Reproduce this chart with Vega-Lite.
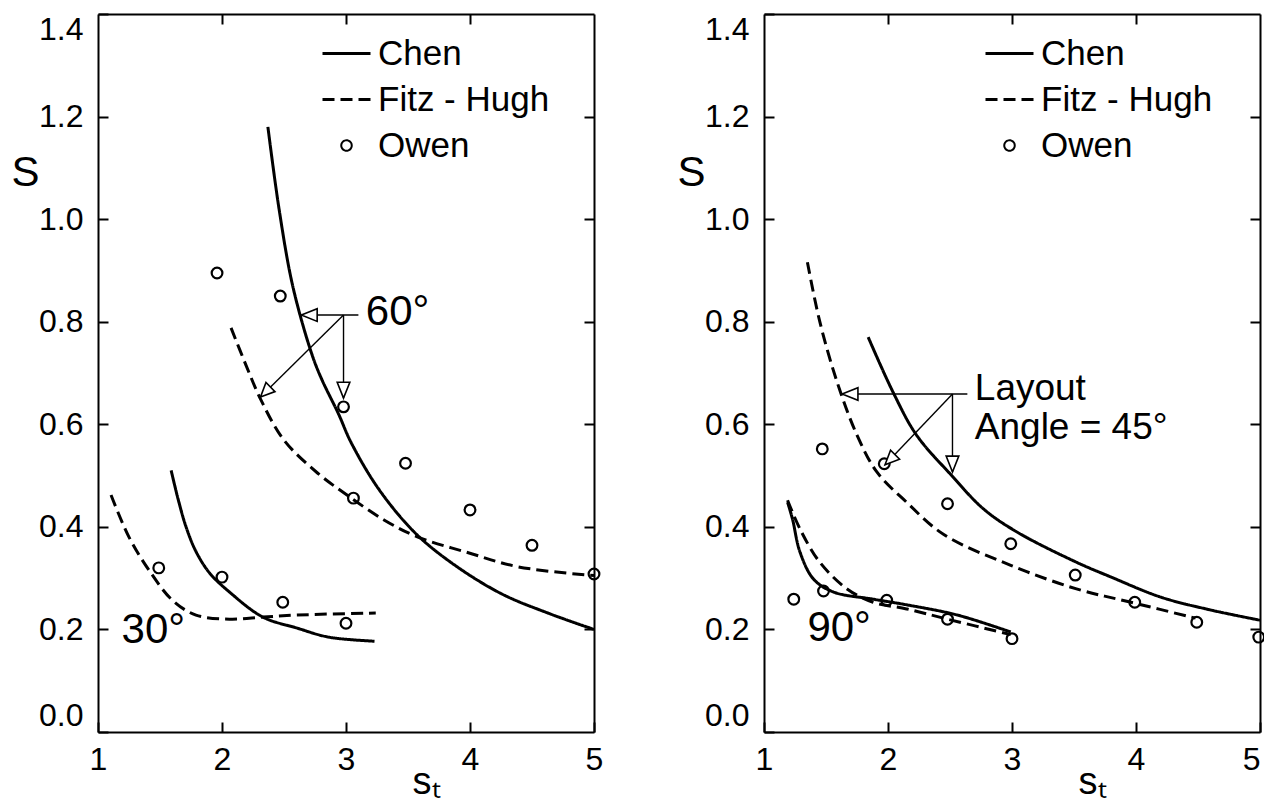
{
  "$schema": "https://vega.github.io/schema/vega-lite/v6.json",
  "padding": {"left": 10, "top": 13, "right": 0, "bottom": 0},
  "spacing": 72,
  "background": "white",
  "datasets": {
    "curves": [
      {"panel": "L", "curve": "C60", "source": "Chen", "x": 2.37, "y": 1.18},
      {"panel": "L", "curve": "C60", "source": "Chen", "x": 2.46, "y": 1.02},
      {"panel": "L", "curve": "C60", "source": "Chen", "x": 2.57, "y": 0.87},
      {"panel": "L", "curve": "C60", "source": "Chen", "x": 2.72, "y": 0.74},
      {"panel": "L", "curve": "C60", "source": "Chen", "x": 2.80, "y": 0.69},
      {"panel": "L", "curve": "C60", "source": "Chen", "x": 2.94, "y": 0.62},
      {"panel": "L", "curve": "C60", "source": "Chen", "x": 3.04, "y": 0.565},
      {"panel": "L", "curve": "C60", "source": "Chen", "x": 3.26, "y": 0.475},
      {"panel": "L", "curve": "C60", "source": "Chen", "x": 3.55, "y": 0.39},
      {"panel": "L", "curve": "C60", "source": "Chen", "x": 3.85, "y": 0.33},
      {"panel": "L", "curve": "C60", "source": "Chen", "x": 4.25, "y": 0.27},
      {"panel": "L", "curve": "C60", "source": "Chen", "x": 4.65, "y": 0.23},
      {"panel": "L", "curve": "C60", "source": "Chen", "x": 5.0, "y": 0.2},
      {"panel": "L", "curve": "F60", "source": "Fitz - Hugh", "x": 2.073, "y": 0.788},
      {"panel": "L", "curve": "F60", "source": "Fitz - Hugh", "x": 2.194, "y": 0.715},
      {"panel": "L", "curve": "F60", "source": "Fitz - Hugh", "x": 2.315, "y": 0.647},
      {"panel": "L", "curve": "F60", "source": "Fitz - Hugh", "x": 2.50, "y": 0.569},
      {"panel": "L", "curve": "F60", "source": "Fitz - Hugh", "x": 2.77, "y": 0.505},
      {"panel": "L", "curve": "F60", "source": "Fitz - Hugh", "x": 3.02, "y": 0.46},
      {"panel": "L", "curve": "F60", "source": "Fitz - Hugh", "x": 3.31, "y": 0.413},
      {"panel": "L", "curve": "F60", "source": "Fitz - Hugh", "x": 3.58, "y": 0.38},
      {"panel": "L", "curve": "F60", "source": "Fitz - Hugh", "x": 3.98, "y": 0.35},
      {"panel": "L", "curve": "F60", "source": "Fitz - Hugh", "x": 4.39, "y": 0.322},
      {"panel": "L", "curve": "F60", "source": "Fitz - Hugh", "x": 5.0, "y": 0.305},
      {"panel": "L", "curve": "C30", "source": "Chen", "x": 1.59, "y": 0.51},
      {"panel": "L", "curve": "C30", "source": "Chen", "x": 1.645, "y": 0.455},
      {"panel": "L", "curve": "C30", "source": "Chen", "x": 1.71, "y": 0.40},
      {"panel": "L", "curve": "C30", "source": "Chen", "x": 1.79, "y": 0.352},
      {"panel": "L", "curve": "C30", "source": "Chen", "x": 1.90, "y": 0.31},
      {"panel": "L", "curve": "C30", "source": "Chen", "x": 2.06, "y": 0.273},
      {"panel": "L", "curve": "C30", "source": "Chen", "x": 2.33, "y": 0.224},
      {"panel": "L", "curve": "C30", "source": "Chen", "x": 2.60, "y": 0.203},
      {"panel": "L", "curve": "C30", "source": "Chen", "x": 2.86, "y": 0.185},
      {"panel": "L", "curve": "C30", "source": "Chen", "x": 3.23, "y": 0.177},
      {"panel": "L", "curve": "F30", "source": "Fitz - Hugh", "x": 1.105, "y": 0.462},
      {"panel": "L", "curve": "F30", "source": "Fitz - Hugh", "x": 1.25, "y": 0.38},
      {"panel": "L", "curve": "F30", "source": "Fitz - Hugh", "x": 1.41, "y": 0.316},
      {"panel": "L", "curve": "F30", "source": "Fitz - Hugh", "x": 1.60, "y": 0.257},
      {"panel": "L", "curve": "F30", "source": "Fitz - Hugh", "x": 1.79, "y": 0.228},
      {"panel": "L", "curve": "F30", "source": "Fitz - Hugh", "x": 2.06, "y": 0.22},
      {"panel": "L", "curve": "F30", "source": "Fitz - Hugh", "x": 2.33, "y": 0.224},
      {"panel": "L", "curve": "F30", "source": "Fitz - Hugh", "x": 2.60, "y": 0.228},
      {"panel": "L", "curve": "F30", "source": "Fitz - Hugh", "x": 3.24, "y": 0.232},
      {"panel": "R", "curve": "F45", "source": "Fitz - Hugh", "x": 1.35, "y": 0.916},
      {"panel": "R", "curve": "F45", "source": "Fitz - Hugh", "x": 1.45, "y": 0.80},
      {"panel": "R", "curve": "F45", "source": "Fitz - Hugh", "x": 1.59, "y": 0.682},
      {"panel": "R", "curve": "F45", "source": "Fitz - Hugh", "x": 1.75, "y": 0.579},
      {"panel": "R", "curve": "F45", "source": "Fitz - Hugh", "x": 1.91, "y": 0.507},
      {"panel": "R", "curve": "F45", "source": "Fitz - Hugh", "x": 2.15, "y": 0.448},
      {"panel": "R", "curve": "F45", "source": "Fitz - Hugh", "x": 2.45, "y": 0.385},
      {"panel": "R", "curve": "F45", "source": "Fitz - Hugh", "x": 2.99, "y": 0.325},
      {"panel": "R", "curve": "F45", "source": "Fitz - Hugh", "x": 3.52, "y": 0.279},
      {"panel": "R", "curve": "F45", "source": "Fitz - Hugh", "x": 3.96, "y": 0.253},
      {"panel": "R", "curve": "F45", "source": "Fitz - Hugh", "x": 4.48, "y": 0.222},
      {"panel": "R", "curve": "C45", "source": "Chen", "x": 1.84, "y": 0.77},
      {"panel": "R", "curve": "C45", "source": "Chen", "x": 2.04, "y": 0.663},
      {"panel": "R", "curve": "C45", "source": "Chen", "x": 2.23, "y": 0.579},
      {"panel": "R", "curve": "C45", "source": "Chen", "x": 2.51, "y": 0.501},
      {"panel": "R", "curve": "C45", "source": "Chen", "x": 2.77, "y": 0.435},
      {"panel": "R", "curve": "C45", "source": "Chen", "x": 3.04, "y": 0.39},
      {"panel": "R", "curve": "C45", "source": "Chen", "x": 3.52, "y": 0.331},
      {"panel": "R", "curve": "C45", "source": "Chen", "x": 3.80, "y": 0.302},
      {"panel": "R", "curve": "C45", "source": "Chen", "x": 4.20, "y": 0.263},
      {"panel": "R", "curve": "C45", "source": "Chen", "x": 4.60, "y": 0.238},
      {"panel": "R", "curve": "C45", "source": "Chen", "x": 5.0, "y": 0.218},
      {"panel": "R", "curve": "C90", "source": "Chen", "x": 1.19, "y": 0.448},
      {"panel": "R", "curve": "C90", "source": "Chen", "x": 1.23, "y": 0.415},
      {"panel": "R", "curve": "C90", "source": "Chen", "x": 1.29, "y": 0.351},
      {"panel": "R", "curve": "C90", "source": "Chen", "x": 1.40, "y": 0.298},
      {"panel": "R", "curve": "C90", "source": "Chen", "x": 1.56, "y": 0.273},
      {"panel": "R", "curve": "C90", "source": "Chen", "x": 1.88, "y": 0.259},
      {"panel": "R", "curve": "C90", "source": "Chen", "x": 2.15, "y": 0.248},
      {"panel": "R", "curve": "C90", "source": "Chen", "x": 2.56, "y": 0.228},
      {"panel": "R", "curve": "C90", "source": "Chen", "x": 2.99, "y": 0.195},
      {"panel": "R", "curve": "F90", "source": "Fitz - Hugh", "x": 1.19, "y": 0.452},
      {"panel": "R", "curve": "F90", "source": "Fitz - Hugh", "x": 1.29, "y": 0.396},
      {"panel": "R", "curve": "F90", "source": "Fitz - Hugh", "x": 1.45, "y": 0.331},
      {"panel": "R", "curve": "F90", "source": "Fitz - Hugh", "x": 1.67, "y": 0.279},
      {"panel": "R", "curve": "F90", "source": "Fitz - Hugh", "x": 1.88, "y": 0.253},
      {"panel": "R", "curve": "F90", "source": "Fitz - Hugh", "x": 2.15, "y": 0.24},
      {"panel": "R", "curve": "F90", "source": "Fitz - Hugh", "x": 2.48, "y": 0.22},
      {"panel": "R", "curve": "F90", "source": "Fitz - Hugh", "x": 2.99, "y": 0.19}
    ],
    "owen": [
      {"panel": "L", "x": 1.96, "y": 0.895},
      {"panel": "L", "x": 2.47, "y": 0.85},
      {"panel": "L", "x": 2.98, "y": 0.634},
      {"panel": "L", "x": 3.06, "y": 0.456},
      {"panel": "L", "x": 3.48, "y": 0.524},
      {"panel": "L", "x": 4.0, "y": 0.433},
      {"panel": "L", "x": 4.5, "y": 0.364},
      {"panel": "L", "x": 5.0, "y": 0.308},
      {"panel": "L", "x": 1.49, "y": 0.32},
      {"panel": "L", "x": 2.0, "y": 0.302},
      {"panel": "L", "x": 2.49, "y": 0.253},
      {"panel": "L", "x": 3.0, "y": 0.212},
      {"panel": "R", "x": 1.24, "y": 0.259},
      {"panel": "R", "x": 1.47, "y": 0.552},
      {"panel": "R", "x": 1.48, "y": 0.275},
      {"panel": "R", "x": 1.97, "y": 0.523},
      {"panel": "R", "x": 1.99, "y": 0.257},
      {"panel": "R", "x": 2.48, "y": 0.445},
      {"panel": "R", "x": 2.48, "y": 0.22},
      {"panel": "R", "x": 2.99, "y": 0.367},
      {"panel": "R", "x": 3.0, "y": 0.182},
      {"panel": "R", "x": 3.51, "y": 0.306},
      {"panel": "R", "x": 3.99, "y": 0.253},
      {"panel": "R", "x": 4.49, "y": 0.214},
      {"panel": "R", "x": 4.99, "y": 0.185}
    ],
    "arrows": [
      {"panel": "L", "x": 2.64, "y": 0.813, "x2": 3.10, "y2": 0.813},
      {"panel": "L", "x": 2.98, "y": 0.813, "x2": 2.98, "y2": 0.651},
      {"panel": "L", "x": 2.98, "y": 0.813, "x2": 2.31, "y2": 0.653},
      {"panel": "R", "x": 1.63, "y": 0.659, "x2": 2.64, "y2": 0.659},
      {"panel": "R", "x": 2.52, "y": 0.659, "x2": 2.52, "y2": 0.507},
      {"panel": "R", "x": 2.52, "y": 0.659, "x2": 1.976, "y2": 0.521}
    ],
    "heads": [
      {"panel": "L", "dir": "left", "x": 2.64, "y": 0.813},
      {"panel": "L", "dir": "down", "x": 2.98, "y": 0.651},
      {"panel": "L", "dir": "downleft", "x": 2.31, "y": 0.653},
      {"panel": "R", "dir": "left", "x": 1.63, "y": 0.659},
      {"panel": "R", "dir": "down", "x": 2.52, "y": 0.507},
      {"panel": "R", "dir": "downleft", "x": 1.976, "y": 0.521}
    ],
    "notes": [
      {"panel": "L", "kind": "angle", "label": "60°", "x": 3.16, "y": 0.819},
      {"panel": "L", "kind": "angle", "label": "30°", "x": 1.19, "y": 0.199},
      {"panel": "R", "kind": "angle", "label": "90°", "x": 1.35, "y": 0.203},
      {"panel": "R", "kind": "layout", "label": "Layout", "x": 2.70, "y": 0.669},
      {"panel": "R", "kind": "layout", "label": "Angle = 45°", "x": 2.70, "y": 0.592}
    ]
  },
  "hconcat": [
    {
      "width": 496,
      "height": 718,
      "resolve": {"axis": {"x": "independent", "y": "independent"}},
      "layer": [
        {
          "data": {"name": "curves"},
          "transform": [{"filter": "datum.panel === 'L'"}],
          "mark": {"type": "line", "color": "black", "strokeWidth": 3, "interpolate": "catmull-rom"},
          "encoding": {
            "x": {"field": "x", "type": "quantitative", "scale": {"domain": [1, 5], "nice": false, "zero": false},
                  "axis": {"orient": "bottom", "values": [1, 2, 3, 4, 5], "format": "d", "labelFontSize": 32, "labelPadding": 22, "labelFlush": false, "tickSize": -10,
                           "title": "sₜ", "titleFontSize": 38, "titleFontWeight": "normal", "titleX": 328, "titleY": 50, "titleBaseline": "middle", "titleAlign": "center"}},
            "y": {"field": "y", "type": "quantitative", "scale": {"domain": [0, 1.4], "nice": false, "zero": false},
                  "axis": {"orient": "left", "values": [0, 0.2, 0.4, 0.6, 0.8, 1.0, 1.2, 1.4], "format": ".1f", "labelFontSize": 32, "labelPadding": 25, "labelFlush": true, "tickSize": -10,
                           "title": "S", "titleAngle": 0, "titleFontSize": 42, "titleFontWeight": "normal", "titleX": -73, "titleY": 158, "titleAlign": "center", "titleBaseline": "middle"}},
            "detail": {"field": "curve"},
            "strokeDash": {"field": "source", "type": "nominal",
                           "scale": {"domain": ["Chen", "Fitz - Hugh", "Owen"], "range": [[1, 0], [12, 6], [1, 0]]},
                           "legend": {"orient": "none", "legendX": 231, "legendY": 22, "title": null, "labelFontSize": 35, "labelFont": "Liberation Sans", "labelColor": "black",
                                      "symbolType": "stroke", "symbolSize": 2304, "symbolStrokeWidth": 3, "symbolStrokeColor": "black", "rowPadding": 10, "labelOffset": 14, "labelLimit": 400,
                                      "encode": {"symbols": {"update": {"shape": {"signal": "datum.value === 'Owen' ? 'circle' : 'stroke'"}, "size": {"signal": "datum.value === 'Owen' ? 110 : 2304"}, "strokeWidth": {"signal": "datum.value === 'Owen' ? 2 : 3"}, "fill": {"value": "transparent"}, "stroke": {"value": "black"}}}}}}
          }
        },
        {
          "data": {"name": "owen"},
          "transform": [{"filter": "datum.panel === 'L'"}],
          "mark": {"type": "point", "shape": "circle", "filled": false, "color": "black", "opacity": 1, "strokeWidth": 2.2, "size": 115},
          "encoding": {
            "x": {"field": "x", "type": "quantitative", "axis": {"orient": "top", "labels": false, "title": null, "values": [2, 3, 4], "tickSize": -10}},
            "y": {"field": "y", "type": "quantitative", "axis": {"orient": "right", "labels": false, "title": null, "values": [0.2, 0.4, 0.6, 0.8, 1.0, 1.2], "tickSize": -10}}
          }
        },
        {
          "data": {"name": "arrows"},
          "transform": [{"filter": "datum.panel === 'L'"}],
          "mark": {"type": "rule", "color": "black", "strokeWidth": 1.4},
          "encoding": {
            "x": {"field": "x", "type": "quantitative", "axis": null},
            "y": {"field": "y", "type": "quantitative", "axis": null},
            "x2": {"field": "x2"},
            "y2": {"field": "y2"}
          }
        },
        {
          "data": {"name": "heads"},
          "transform": [{"filter": "datum.panel === 'L'"}],
          "mark": {"type": "point", "filled": true, "fill": "white", "stroke": "black", "strokeWidth": 1.6, "size": 1000, "opacity": 1},
          "encoding": {
            "x": {"field": "x", "type": "quantitative", "axis": null},
            "y": {"field": "y", "type": "quantitative", "axis": null},
            "shape": {"field": "dir", "type": "nominal", "legend": null,
                      "scale": {"domain": ["left", "down", "downleft"], "range": ["M0,0L1,-0.4L1,0.4Z", "M0,0L-0.4,-1L0.4,-1Z", "M0,0L0.92,-0.35L0.35,-0.92Z"]}}
          }
        },
        {
          "data": {"name": "notes"},
          "transform": [{"filter": "datum.panel === 'L'"}],
          "mark": {"type": "text", "align": "left", "baseline": "middle", "font": "Liberation Sans", "color": "black"},
          "encoding": {
            "x": {"field": "x", "type": "quantitative", "axis": null},
            "y": {"field": "y", "type": "quantitative", "axis": null},
            "text": {"field": "label"},
            "size": {"field": "kind", "type": "nominal", "legend": null, "scale": {"domain": ["angle", "layout"], "range": [42, 37]}}
          }
        }
      ]
    },
    {
      "width": 496,
      "height": 718,
      "resolve": {"axis": {"x": "independent", "y": "independent"}},
      "layer": [
        {
          "data": {"name": "curves"},
          "transform": [{"filter": "datum.panel === 'R'"}],
          "mark": {"type": "line", "color": "black", "strokeWidth": 3, "interpolate": "catmull-rom"},
          "encoding": {
            "x": {"field": "x", "type": "quantitative", "scale": {"domain": [1, 5], "nice": false, "zero": false},
                  "axis": {"orient": "bottom", "values": [1, 2, 3, 4, 5], "format": "d", "labelFontSize": 32, "labelPadding": 22, "labelFlush": false, "tickSize": -10,
                           "labelAlign": {"condition": {"test": "datum.value >= 5", "value": "right"}, "value": "center"},
                           "title": "sₜ", "titleFontSize": 38, "titleFontWeight": "normal", "titleX": 328, "titleY": 50, "titleBaseline": "middle", "titleAlign": "center"}},
            "y": {"field": "y", "type": "quantitative", "scale": {"domain": [0, 1.4], "nice": false, "zero": false},
                  "axis": {"orient": "left", "values": [0, 0.2, 0.4, 0.6, 0.8, 1.0, 1.2, 1.4], "format": ".1f", "labelFontSize": 32, "labelPadding": 25, "labelFlush": true, "tickSize": -10,
                           "title": "S", "titleAngle": 0, "titleFontSize": 42, "titleFontWeight": "normal", "titleX": -73, "titleY": 158, "titleAlign": "center", "titleBaseline": "middle"}},
            "detail": {"field": "curve"},
            "strokeDash": {"field": "source", "type": "nominal",
                           "scale": {"domain": ["Chen", "Fitz - Hugh", "Owen"], "range": [[1, 0], [12, 6], [1, 0]]},
                           "legend": {"orient": "none", "legendX": 228, "legendY": 22, "title": null, "labelFontSize": 35, "labelFont": "Liberation Sans", "labelColor": "black",
                                      "symbolType": "stroke", "symbolSize": 2304, "symbolStrokeWidth": 3, "symbolStrokeColor": "black", "rowPadding": 10, "labelOffset": 14, "labelLimit": 400,
                                      "encode": {"symbols": {"update": {"shape": {"signal": "datum.value === 'Owen' ? 'circle' : 'stroke'"}, "size": {"signal": "datum.value === 'Owen' ? 110 : 2304"}, "strokeWidth": {"signal": "datum.value === 'Owen' ? 2 : 3"}, "fill": {"value": "transparent"}, "stroke": {"value": "black"}}}}}}
          }
        },
        {
          "data": {"name": "owen"},
          "transform": [{"filter": "datum.panel === 'R'"}],
          "mark": {"type": "point", "shape": "circle", "filled": false, "color": "black", "opacity": 1, "strokeWidth": 2.2, "size": 115},
          "encoding": {
            "x": {"field": "x", "type": "quantitative", "axis": {"orient": "top", "labels": false, "title": null, "values": [2, 3, 4], "tickSize": -10}},
            "y": {"field": "y", "type": "quantitative", "axis": {"orient": "right", "labels": false, "title": null, "values": [0.2, 0.4, 0.6, 0.8, 1.0, 1.2], "tickSize": -10}}
          }
        },
        {
          "data": {"name": "arrows"},
          "transform": [{"filter": "datum.panel === 'R'"}],
          "mark": {"type": "rule", "color": "black", "strokeWidth": 1.4},
          "encoding": {
            "x": {"field": "x", "type": "quantitative", "axis": null},
            "y": {"field": "y", "type": "quantitative", "axis": null},
            "x2": {"field": "x2"},
            "y2": {"field": "y2"}
          }
        },
        {
          "data": {"name": "heads"},
          "transform": [{"filter": "datum.panel === 'R'"}],
          "mark": {"type": "point", "filled": true, "fill": "white", "stroke": "black", "strokeWidth": 1.6, "size": 1000, "opacity": 1},
          "encoding": {
            "x": {"field": "x", "type": "quantitative", "axis": null},
            "y": {"field": "y", "type": "quantitative", "axis": null},
            "shape": {"field": "dir", "type": "nominal", "legend": null,
                      "scale": {"domain": ["left", "down", "downleft"], "range": ["M0,0L1,-0.4L1,0.4Z", "M0,0L-0.4,-1L0.4,-1Z", "M0,0L0.92,-0.35L0.35,-0.92Z"]}}
          }
        },
        {
          "data": {"name": "notes"},
          "transform": [{"filter": "datum.panel === 'R'"}],
          "mark": {"type": "text", "align": "left", "baseline": "middle", "font": "Liberation Sans", "color": "black"},
          "encoding": {
            "x": {"field": "x", "type": "quantitative", "axis": null},
            "y": {"field": "y", "type": "quantitative", "axis": null},
            "text": {"field": "label"},
            "size": {"field": "kind", "type": "nominal", "legend": null, "scale": {"domain": ["angle", "layout"], "range": [42, 37]}}
          }
        }
      ]
    }
  ],
  "resolve": {"scale": {"strokeDash": "independent"}, "legend": {"strokeDash": "independent"}},
  "config": {
    "view": {"stroke": null},
    "font": "Liberation Sans",
    "axis": {"grid": false, "domainColor": "black", "domainWidth": 2, "tickColor": "black", "tickWidth": 2, "labelColor": "black", "titleColor": "black", "labelFont": "Liberation Sans", "titleFont": "Liberation Sans"}
  }
}
